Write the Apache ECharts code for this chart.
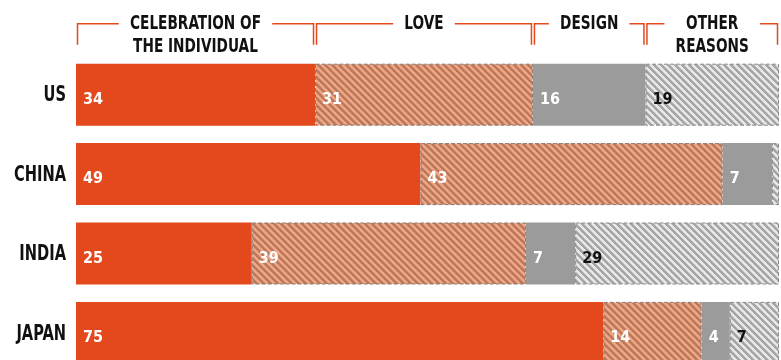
<!DOCTYPE html>
<html>
<head>
<meta charset="utf-8">
<script src="https://cdn.jsdelivr.net/npm/echarts@6/dist/echarts.min.js"></script>
<style>
html,body{margin:0;padding:0;background:#fff;}
#chart{width:781px;height:360px;}
</style>
</head>
<body>
<div id="chart"></div>
<script>
const categories = ['US', 'CHINA', 'INDIA', 'JAPAN'];
const seriesNames = ['CELEBRATION OF\nTHE INDIVIDUAL', 'LOVE', 'DESIGN', 'OTHER\nREASONS'];
const celebration = [34, 49, 25, 75];
const love = [31, 43, 39, 14];
const design = [16, 7, 7, 4];
const other = [19, 1, 29, 7];

const FONT = '"DejaVu Sans Condensed", "Liberation Sans Narrow", sans-serif';
const ORANGE = '#E4491D';

// crisp diagonal "\" stripes, pixel by pixel
function stripes(bg, fg, mid, period, dark) {
  const s = period;
  const c = document.createElement('canvas');
  c.width = s; c.height = s;
  const g = c.getContext('2d');
  g.fillStyle = bg; g.fillRect(0, 0, s, s);
  for (let y = 0; y < s; y++) {
    for (let x = 0; x < s; x++) {
      const d = ((x - y) % s + s) % s;
      if (d < dark) { g.fillStyle = fg; g.fillRect(x, y, 1, 1); }
      else if (d === dark) { g.fillStyle = mid; g.fillRect(x, y, 1, 1); }
    }
  }
  return c;
}

// header brackets follow the US row segments
const usRow = [celebration[0], love[0], design[0], other[0]];
const headerData = [];
let acc = 0;
usRow.forEach(v => { headerData.push([acc, acc + v]); acc += v; });
const catData = categories.map((c, i) => [0, i]);

const BAR_W = 62;

function labelCfg(color) {
  return {
    show: true, position: 'insideLeft', distance: 7, offset: [0, 5],
    color: color, fontFamily: FONT, fontWeight: 'bold', fontSize: 16,
    formatter: p => (p.value >= 2 ? String(p.value) : '')
  };
}

const chart = echarts.init(document.getElementById('chart'), null, { renderer: 'canvas' });
chart.setOption({
  animation: false,
  grid: { left: 76, right: 2, top: 55, height: 317.6, outerBoundsMode: 'none', containLabel: false },
  xAxis: { type: 'value', min: 0, max: 100, show: false },
  yAxis: {
    type: 'category', data: categories, inverse: true,
    axisLine: { show: false }, axisTick: { show: false }, axisLabel: { show: false }
  },
  series: [
    {
      name: seriesNames[0], type: 'bar', stack: 'all', barWidth: BAR_W, data: celebration,
      itemStyle: { color: ORANGE }, label: labelCfg('#fff')
    },
    {
      name: seriesNames[1], type: 'bar', stack: 'all', barWidth: BAR_W, data: love,
      itemStyle: {
        color: { image: stripes('#F3A581', '#B87A5F', '#D69070', 7, 3), repeat: 'repeat' },
        borderColor: '#8c7a72', borderWidth: 1, borderType: 'dashed'
      },
      label: labelCfg('#fff')
    },
    {
      name: seriesNames[2], type: 'bar', stack: 'all', barWidth: BAR_W, data: design,
      itemStyle: { color: '#9B9B9B' }, label: labelCfg('#fff')
    },
    {
      name: seriesNames[3], type: 'bar', stack: 'all', barWidth: BAR_W, data: other,
      itemStyle: {
        color: { image: stripes('#E8E8E8', '#A5A5A5', '#C6C6C6', 7, 3), repeat: 'repeat' },
        borderColor: '#8a8a8a', borderWidth: 1, borderType: 'dashed'
      },
      label: labelCfg('#111')
    },
    {
      // category names (narrowed bold text)
      type: 'custom', coordinateSystem: 'cartesian2d', silent: true, z: 10, clip: false,
      data: catData, encode: { x: 0, y: 1 },
      renderItem: function (params, api) {
        const p = api.coord([0, api.value(1)]);
        return {
          type: 'text',
          x: p[0] - 10, y: p[1] + 1, scaleX: 0.74,
          style: {
            text: categories[params.dataIndex], x: 0, y: 0,
            align: 'right', verticalAlign: 'middle',
            fill: '#111', fontFamily: FONT, fontWeight: 'bold', fontSize: 22
          }
        };
      }
    },
    {
      // header brackets
      type: 'custom', coordinateSystem: 'cartesian2d', silent: true, z: 10, clip: false,
      data: headerData, encode: { x: [0, 1] },
      renderItem: function (params, api) {
        const a = api.coord([api.value(0), 0]);
        const b = api.coord([api.value(1), 0]);
        const cy = a[1];
        const x0 = a[0] + 1.5, x1 = b[0] - 1.5;
        const yTop = cy - BAR_W / 2 - 40;
        const yBot = cy - BAR_W / 2 - 19;
        return {
          type: 'group',
          children: [
            {
              type: 'polyline',
              shape: { points: [[x0, yBot], [x0, yTop], [x1, yTop], [x1, yBot]] },
              style: { stroke: ORANGE, lineWidth: 1.5, fill: null }
            },
            {
              type: 'text',
              x: (x0 + x1) / 2, y: yTop - 11.5, scaleX: 0.8,
              style: {
                text: seriesNames[params.dataIndex], x: 0, y: 0,
                align: 'center', verticalAlign: 'top',
                fill: '#111', fontFamily: FONT, fontWeight: 'bold', fontSize: 19,
                lineHeight: 23, backgroundColor: '#fff', padding: [0, 14]
              }
            }
          ]
        };
      }
    }
  ]
});
</script>
</body>
</html>
